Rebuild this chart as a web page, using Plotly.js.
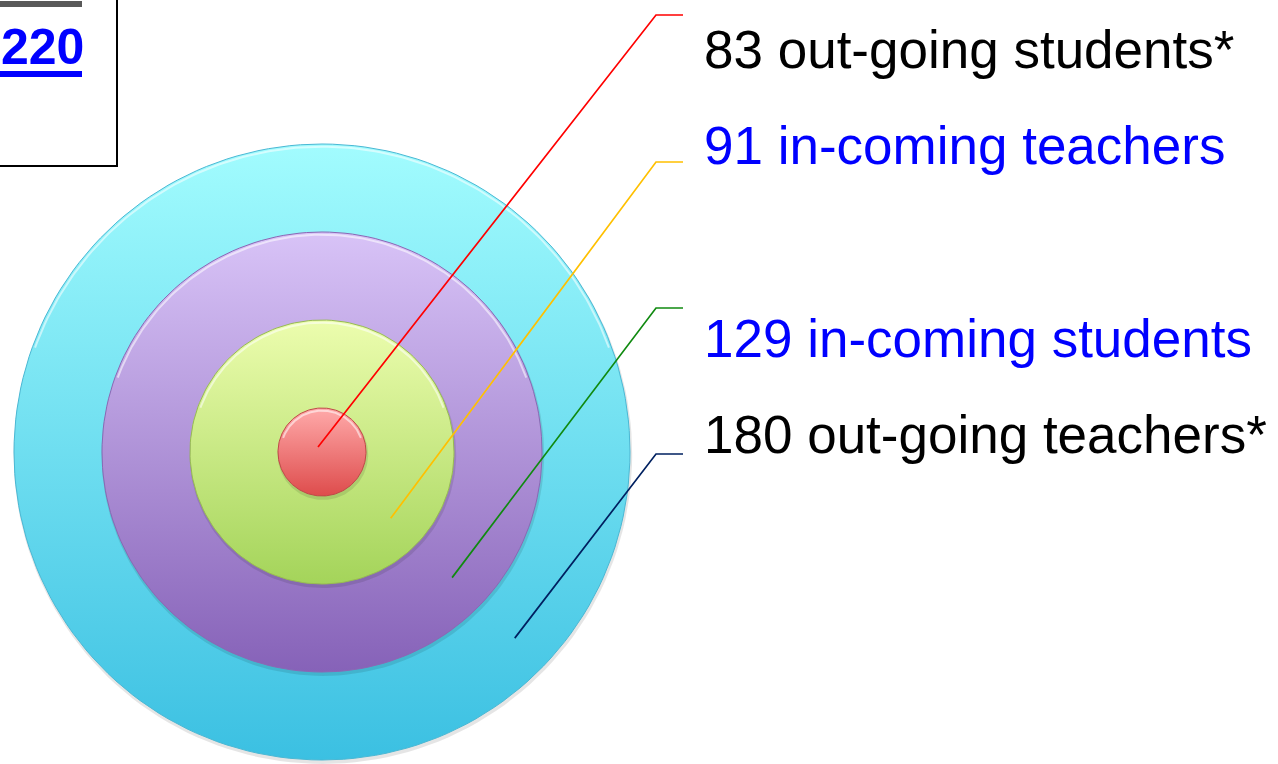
<!DOCTYPE html>
<html>
<head>
<meta charset="utf-8">
<script src="https://cdn.plot.ly/plotly-3.0.1.min.js"></script>
<style>html,body{margin:0;padding:0;background:#fff;overflow:hidden}#chart{width:1278px;height:764px}</style>
</head>
<body>
<div id="chart"></div>
<script>
// ---- data ----
const categories = ['out-going students*', 'in-coming teachers', 'in-coming students', 'out-going teachers*'];
const counts = [83, 91, 129, 180];
const labelColors = ['#000000', '#0000FF', '#0000FF', '#000000'];
const headerValue = '220';

// ---- layout constants (diagram geometry, in units of inner-circle radius) ----
const W = 1278, H = 764, U = 44, CX = 322, CY = 452;
const ringR = [1, 3, 5, 7];              // red, green, purple, cyan
const ringTop = ['#FFAAAA', '#ECFDAE', '#D8C3F7', '#A2FCFE'];
const ringBot = ['#DE4C4C', '#A4D45A', '#8662B8', '#3BC0E2'];
const ringEdge = ['#C04848', '#98BC52', '#8A68B4', '#4AB8D4'];
const calloutColors = ['#FF0000', '#FFC000', '#108A10', '#002060'];
const calloutStartR = [0, 2.17, 4.11, 6.09];
const calloutY = [15, 162, 308, 454];    // pixel rows of elbows
const labelY = [49, 145, 338, 434];

function ux(px) { return (px - CX) / U; }
function uy(py) { return (CY - py) / U; }
function circle(r, dx, dy) {
  const xs = [], ys = [];
  for (let i = 0; i <= 180; i++) {
    const a = 2 * Math.PI * i / 180;
    xs.push(dx + r * Math.cos(a)); ys.push(dy + r * Math.sin(a));
  }
  return {xs, ys};
}

const traces = [];
// draw from outermost inwards
for (let k = ringR.length - 1; k >= 0; k--) {
  const r = ringR[k];
  const sh = circle(r + 0.03, 0.02, -0.06);
  traces.push({type: 'scatter', mode: 'lines', x: sh.xs, y: sh.ys, fill: 'toself',
    fillcolor: 'rgba(0,0,0,0.10)', line: {width: 0}, hoverinfo: 'skip', showlegend: false});
  const c = circle(r, 0, 0);
  traces.push({type: 'scatter', mode: 'lines', x: c.xs, y: c.ys, fill: 'toself',
    fillgradient: {type: 'vertical', colorscale: [[0, ringBot[k]], [1, ringTop[k]]]},
    line: {width: 1, color: ringEdge[k]}, hoverinfo: 'skip', showlegend: false});
  // soft top highlight (bevel)
  const hx = [], hy = [];
  for (let i = 20; i <= 160; i++) {
    const a = Math.PI * i / 180;
    hx.push((r - 0.06) * Math.cos(a)); hy.push((r - 0.06) * Math.sin(a));
  }
  traces.push({type: 'scatter', mode: 'lines', x: hx, y: hy,
    line: {width: 2, color: 'rgba(255,255,255,0.55)'}, hoverinfo: 'skip', showlegend: false});
}

// callout lines
const elbowX = ux(656), endX = ux(683);
const ang = -44 * Math.PI / 180;
for (let i = 0; i < categories.length; i++) {
  const r0 = calloutStartR[i];
  const x0 = i === 0 ? ux(318) : r0 * Math.cos(ang);
  const y0 = i === 0 ? uy(447) : r0 * Math.sin(ang);
  traces.push({type: 'scatter', mode: 'lines',
    x: [x0, elbowX, endX], y: [y0, uy(calloutY[i]), uy(calloutY[i])],
    line: {color: calloutColors[i], width: 1.7}, hoverinfo: 'skip', showlegend: false});
}

const annotations = categories.map((c, i) => ({
  x: 702 / W, y: 1 - labelY[i] / H, xref: 'paper', yref: 'paper',
  xanchor: 'left', yanchor: 'middle', showarrow: false,
  text: counts[i] + ' ' + c,
  font: {family: 'Liberation Sans, Arial, sans-serif', size: 53, color: labelColors[i]}
}));
annotations.push({
  x: -1 / W, y: 1 - 47 / H, xref: 'paper', yref: 'paper',
  xanchor: 'left', yanchor: 'middle', showarrow: false,
  text: '<b>' + headerValue + '</b>',
  font: {family: 'Liberation Sans, Arial, sans-serif', size: 50, color: '#0000FF'}
});

const shapes = [
  {type: 'rect', xref: 'paper', yref: 'paper', x0: -10 / W, x1: 117 / W, y0: 1 - 166 / H, y1: 1 + 10 / H,
   line: {color: '#000', width: 2}, fillcolor: 'rgba(0,0,0,0)'},
  {type: 'rect', xref: 'paper', yref: 'paper', x0: -10 / W, x1: 82 / W, y0: 1 - 7 / H, y1: 1 - 1 / H,
   line: {width: 0}, fillcolor: '#595959'},
  {type: 'rect', xref: 'paper', yref: 'paper', x0: -10 / W, x1: 82 / W, y0: 1 - 77 / H, y1: 1 - 71 / H,
   line: {width: 0}, fillcolor: '#0000FF'}
];

const layout = {
  width: W, height: H, margin: {l: 0, r: 0, t: 0, b: 0},
  paper_bgcolor: '#fff', plot_bgcolor: '#fff',
  xaxis: {range: [ux(0), ux(W)], visible: false, fixedrange: true},
  yaxis: {range: [uy(H), uy(0)], visible: false, fixedrange: true},
  showlegend: false, annotations, shapes
};
Plotly.newPlot('chart', traces, layout, {displayModeBar: false, staticPlot: true});
</script>
</body>
</html>
